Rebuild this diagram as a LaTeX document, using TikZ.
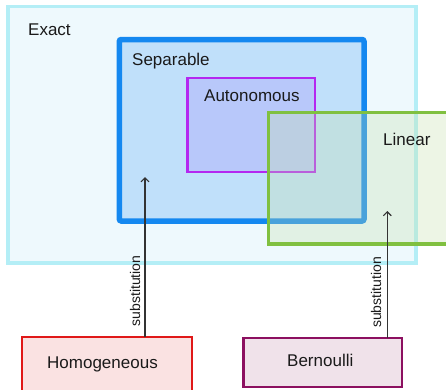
\documentclass[tikz,border=0pt]{standalone}
\usepackage{fontspec}
\setmainfont{Liberation Sans}
\usetikzlibrary{arrows.meta}
\definecolor{exactB}{HTML}{B4EEF6}
\definecolor{exactF}{HTML}{EEF9FD}
\definecolor{sepB}{HTML}{1488F0}
\definecolor{sepF}{HTML}{C0E0FA}
\definecolor{autB}{HTML}{B428F0}
\definecolor{autF}{HTML}{B8C8FA}
\definecolor{linB}{HTML}{80C040}
\definecolor{linF}{HTML}{C6E1AC}
\definecolor{homB}{HTML}{E01818}
\definecolor{homF}{HTML}{FAE2E2}
\definecolor{berB}{HTML}{8C1060}
\definecolor{berF}{HTML}{F0E2EA}
\definecolor{txt}{HTML}{1A1A1A}
\definecolor{arrowc}{HTML}{333333}
\begin{document}
\begin{tikzpicture}[x=1pt,y=-1pt,
  box/.style={draw, anchor=north west, inner sep=0pt, outer sep=0pt},
  lbl/.style={anchor=base west, inner sep=0pt, text=txt, font=\fontsize{17}{20}\selectfont},
  sublbl/.style={rotate=90, anchor=base, inner sep=0pt, text=txt, font=\fontsize{14}{16}\selectfont},
  arr/.style={draw=arrowc, line width=1.1pt, -{Straight Barb[length=4pt,width=8pt]}}]
\fill[white] (0,0) rectangle (446,389);
\clip (0,0) rectangle (446,389);
\node[box, draw=exactB, fill=exactF, line width=3.5pt, minimum width=408pt, minimum height=256.3pt] (exact) at (8,6.7) {};
\node[box, draw=sepB, fill=sepF, line width=5.5pt, rounded corners=2pt, minimum width=244.7pt, minimum height=181.5pt] (sep) at (119.3,39.5) {};
\node[box, draw=autB, fill=autF, line width=2.5pt, minimum width=127.7pt, minimum height=94pt] (aut) at (187.3,78) {};
\node[box, draw=linB, fill=linF, fill opacity=0.3, draw opacity=1, line width=3.5pt, minimum width=200pt, minimum height=131.3pt] (lin) at (268.3,112.7) {};
\node[box, draw=homB, fill=homF, line width=2.5pt, minimum width=170pt, minimum height=70pt] (hom) at (22,337) {};
\node[box, draw=berB, fill=berF, line width=2.5pt, minimum width=158.3pt, minimum height=49pt] (ber) at (243.7,338) {};
\node[lbl] (tExact) at (28,35) {Exact};
\node[lbl] (tSep) at (132,65.5) {Separable};
\node[lbl] (tAut) at (204,101) {Autonomous};
\node[lbl] (tLin) at (383,145) {Linear};
\node[lbl] (tHom) at (47,368) {Homogeneous};
\node[lbl] (tBer) at (287,366) {Bernoulli};
\coordinate (hTip) at (145,177);
\coordinate (bTip) at (387.3,211);
\draw[arr] (hom.north -| hTip) -- (hTip);
\draw[arr] (ber.north -| bTip) -- (bTip);
\node[sublbl] (s1) at (140,291) {substitution};
\node[sublbl] (s2) at (381,292.5) {substitution};
\end{tikzpicture}
\end{document}
